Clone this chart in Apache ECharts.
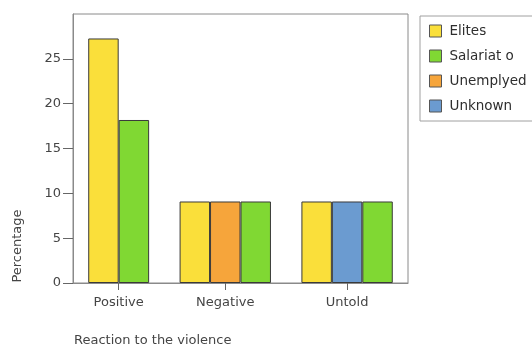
<!DOCTYPE html>
<html>
<head>
<meta charset="utf-8">
<script src="https://cdn.jsdelivr.net/npm/echarts@6/dist/echarts.min.js"></script>
<style>
  html, body { margin: 0; padding: 0; background: #fff; }
  #chart { width: 532px; height: 354px; }
</style>
</head>
<body>
<div id="chart"></div>
<script>
// Reaction categories along the x axis
const categories = ['Positive', 'Negative', 'Untold'];

// Percentages per social group, one value per reaction category
const elites     = [27.27, 9.09, 9.09];
const salariat   = [18.18, 9.09, 9.09];
const unemployed = [0,     9.09, 0];
const unknown    = [0,     0,    9.09];

// Legend order and bar order inside each cluster
const legendNames = ['Elites', 'Salariat o', 'Unemplyed', 'Unknown'];
const barOrder    = ['Elites', 'Unemplyed', 'Unknown', 'Salariat o'];
const yTicks      = [0, 5, 10, 15, 20, 25];

const valuesByGroup = {
  'Elites': elites,
  'Salariat o': salariat,
  'Unemplyed': unemployed,
  'Unknown': unknown
};
const colors = {
  'Elites': '#fadf3a',
  'Salariat o': '#80d833',
  'Unemplyed': '#f6a53b',
  'Unknown': '#6b9bd0'
};

// Clustered layout: empty bars are dropped, clusters separated by one bar width,
// half a bar width of padding at both ends of the axis.
const positions = {};   // group -> list of [x, value]
legendNames.forEach(g => positions[g] = []);
const clusterCenters = [];
let cursor = 0.5;
categories.forEach((cat, ci) => {
  const present = barOrder.filter(g => valuesByGroup[g][ci] > 0);
  const start = cursor;
  present.forEach((g, k) => {
    positions[g].push([start + k + 0.5, valuesByGroup[g][ci]]);
  });
  cursor = start + present.length;
  clusterCenters.push((start + cursor) / 2);
  cursor += 1;
});
const xMax = cursor - 0.5;

const W = 532, H = 354;
const gridLeft = 73, gridRight = 124, gridTop = 14, gridBottom = 71;
const barPx = (W - gridLeft - gridRight) / xMax;

const textColor = '#454545';
const axisColor = '#8a8a8a';
const font = 'DejaVu Sans';

const chart = echarts.init(document.getElementById('chart'), null, { renderer: 'canvas' });

chart.setOption({
  animation: false,
  backgroundColor: '#ffffff',
  textStyle: { fontFamily: font },
  grid: {
    left: gridLeft, right: gridRight, top: gridTop, bottom: gridBottom,
    show: true, borderColor: axisColor, borderWidth: 1, backgroundColor: 'transparent'
  },
  legend: {
    data: legendNames,
    orient: 'vertical',
    left: 420, top: 16,
    itemWidth: 12, itemHeight: 12, itemGap: 11,
    padding: [8, 14, 8, 9],
    borderColor: '#a0a0a0', borderWidth: 1,
    icon: 'rect',
    itemStyle: { borderColor: '#555', borderWidth: 1 },
    textStyle: { fontFamily: font, fontSize: 13.5, color: '#2e2e2e', padding: [0, 0, 0, 3] }
  },
  xAxis: {
    type: 'value',
    min: 0, max: xMax,
    splitLine: { show: false },
    axisLine: { show: true, lineStyle: { color: axisColor, width: 1 } },
    axisTick: { show: true, customValues: clusterCenters, length: 7, lineStyle: { color: '#666' } },
    axisLabel: {
      customValues: clusterCenters,
      formatter: v => categories[clusterCenters.indexOf(v)] || '',
      color: textColor, fontFamily: font, fontSize: 13, margin: 13
    }
  },
  yAxis: {
    type: 'value',
    min: 0, max: 30, interval: 5,
    splitLine: { show: false },
    axisLine: { show: true, lineStyle: { color: axisColor, width: 1 } },
    axisTick: { show: true, customValues: yTicks, length: 10, lineStyle: { color: '#666' } },
    axisLabel: { customValues: yTicks, color: textColor, fontFamily: font, fontSize: 13, margin: 12 }
  },
  graphic: [
    {
      type: 'text',
      left: 74, top: 334,
      style: { text: 'Reaction to the violence', fill: textColor, font: '13px "DejaVu Sans"' }
    },
    {
      type: 'text',
      x: 18, y: 246, rotation: Math.PI / 2,
      style: { text: 'Percentage', fill: textColor, font: '13px "DejaVu Sans"',
               align: 'center', verticalAlign: 'middle' }
    }
  ],
  series: legendNames.map(g => ({
    name: g,
    type: 'bar',
    data: positions[g],
    barWidth: barPx,
    barGap: '-100%',
    itemStyle: { color: colors[g], borderColor: '#3a3a3a', borderWidth: 1 }
  }))
});
</script>
</body>
</html>
